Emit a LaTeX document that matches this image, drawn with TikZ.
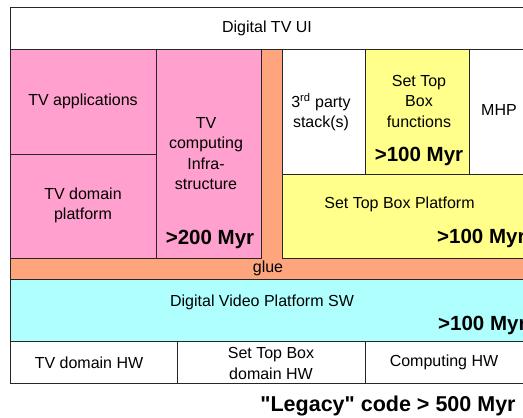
\documentclass[tikz,border=0pt]{standalone}
\usepackage{fontspec}
\setmainfont{Liberation Sans}
\definecolor{rosa}{HTML}{FFA0CE}
\definecolor{leim}{HTML}{FFA57D}
\definecolor{gelb}{HTML}{FFFF8A}
\definecolor{tuerkis}{HTML}{B0FFFF}
\begin{document}
\begin{tikzpicture}[x=1bp, y=-1bp,
        box/.style={draw=black!85, line width=0.8bp},
        txt/.style={inner sep=0pt, align=center, font=\fontsize{16bp}{20.5bp}\selectfont},
        fett/.style={inner sep=0pt, font=\bfseries\fontsize{20.5bp}{24bp}\selectfont}]
        \clip (0,0) rectangle (523,417);
        % Oberflaeche
        \draw[box, fill=white] (10,7) rectangle (527,49);
        \node[txt] (ui) at (267,28) {Digital TV UI};
        % TV-Teil
        \draw[box, fill=rosa] (10,49) rectangle (156,154);
        \draw[box, fill=rosa] (10,154) rectangle (156,258);
        \draw[box, fill=rosa] (156,49) rectangle (261,258);
        \node[txt] (tvapp) at (83,101) {TV applications};
        \node[txt] (tvdom) at (83,205.5) {TV domain\\platform};
        \node[txt] (tvcomp) at (206,153.5) {TV\\computing\\Infra-\\structure};
        \node[fett] (tvmyr) at (210,239) {>200 Myr};
        % glue
        \draw[box, fill=leim] (261,49) -- (282,49) -- (282,258) -- (527,258)
            -- (527,279) -- (10,279) -- (10,258) -- (261,258) -- cycle;
        \node[txt] (glue) at (268,268.5) {glue};
        % Set Top Box
        \draw[box, fill=white] (282,49) rectangle (365,174);
        \draw[box, fill=gelb] (365,49) rectangle (469,174);
        \draw[box, fill=white] (469,49) rectangle (527,174);
        \draw[box, fill=gelb] (282,174) rectangle (527,258);
        \node[txt] (party) at (321,112) {3\textsuperscript{rd} party\\stack(s)};
        \node[txt] (stbfun) at (419,101) {Set Top\\Box\\functions};
        \node[fett] (stbfunmyr) at (419,156) {>100 Myr};
        \node[txt] (mhp) at (499,110) {MHP};
        \node[txt] (stbplat) at (399.5,204) {Set Top Box Platform};
        \node[fett, anchor=west] (stbplatmyr) at (437,238) {>100 Myr};
        % Video-Plattform
        \draw[box, fill=tuerkis] (10,279) rectangle (527,341);
        \node[txt] (dvp) at (262,302) {Digital Video Platform SW};
        \node[fett, anchor=west] (dvpmyr) at (438,325) {>100 Myr};
        % Hardware
        \draw[box, fill=white] (10,341) rectangle (177,383);
        \draw[box, fill=white] (177,341) rectangle (365,383);
        \draw[box, fill=white] (365,341) rectangle (527,383);
        \node[txt] (tvhw) at (89,363) {TV domain HW};
        \node[txt] (stbhw) at (271,363.5) {Set Top Box\\domain HW};
        \node[txt] (comphw) at (444,362) {Computing HW};
        % Summe
        \node[inner sep=0pt, anchor=base, font=\bfseries\fontsize{21.5bp}{26bp}\selectfont]
            (legacy) at (388,411.5) {\textquotedbl Legacy\textquotedbl{} code > 500 Myr};
    \end{tikzpicture}
\end{document}
